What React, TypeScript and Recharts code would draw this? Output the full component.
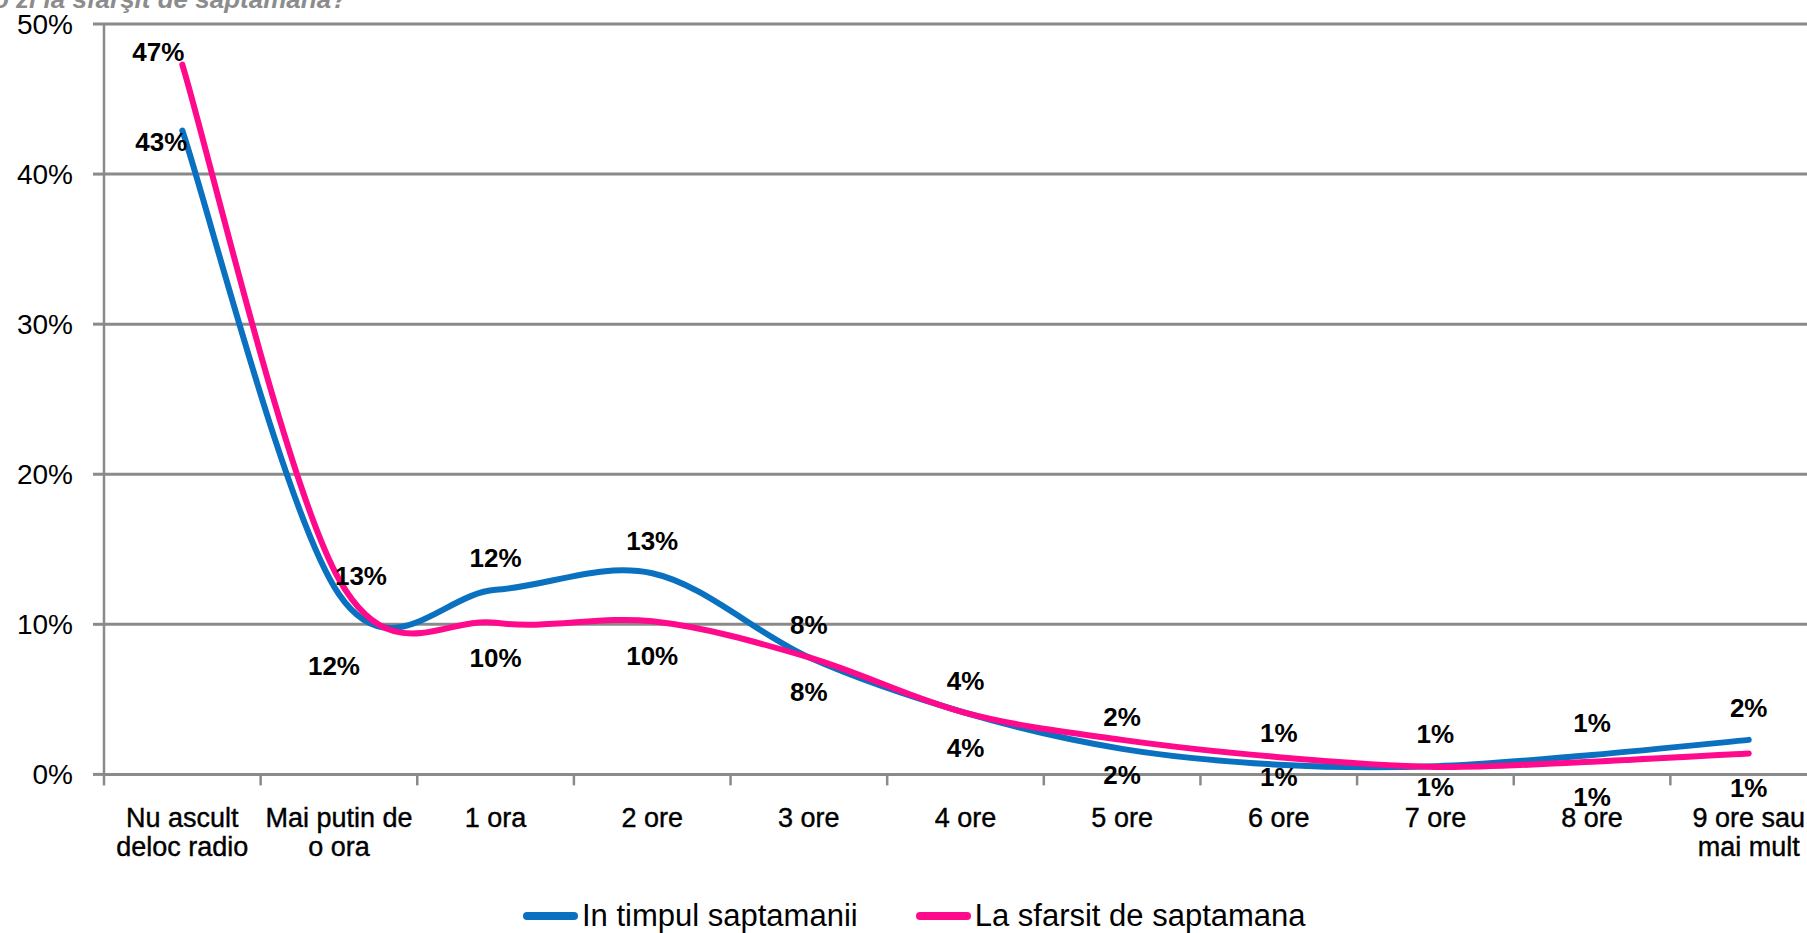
import React from 'react';
import { LineChart, Line, XAxis, YAxis, CartesianGrid } from 'recharts';

// ---------- data ----------
const categories = [
  'Nu ascult deloc radio',
  'Mai putin de o ora',
  '1 ora',
  '2 ore',
  '3 ore',
  '4 ore',
  '5 ore',
  '6 ore',
  '7 ore',
  '8 ore',
  '9 ore sau mai mult',
];
const weekValues = [42.9, 12.0, 12.3, 13.4, 7.8, 4.1, 1.7, 0.65, 0.55, 1.3, 2.3];
const weekendValues = [47.3, 13.0, 10.1, 10.2, 7.8, 4.1, 2.3, 1.15, 0.5, 0.85, 1.4];
const seriesNames = ['In timpul saptamanii', 'La sfarsit de saptamana'];
const yTicks = [0, 10, 20, 30, 40, 50];
const titleText = 'o zi la sfarşit de saptamana?';

// ---------- styles / layout ----------
const FONT = '"Liberation Sans", Arial, Helvetica, sans-serif';
const GRID = '#8a8a8a';
const BLUE = '#0a70c0';
const PINK = '#ff0a8c';
const CHART_W = 1835;
const CHART_H = 933;
const MARGIN = { top: 24, right: 8, bottom: 58.6, left: 0 };
const YAXIS_W = 104;
const BAND_PX = (CHART_W - MARGIN.left - MARGIN.right - YAXIS_W) / categories.length;
const XLABEL_SIZE = 27;
const XLABEL_FONT = `${XLABEL_SIZE}px "Liberation Sans", Arial, sans-serif`;

// label placement names (relative offsets from the point)
const labelOffsets: Record<string, [number, number]> = {
  above: [0, -32],
  below: [0, 35],
  nearBelow: [0, 20],
  leftUp: [-24, -13],
  leftDown: [-21, 11],
  right: [22, -3],
  farBelow: [-5, 72],
};
const weekPlacement = ['leftDown', 'farBelow', 'above', 'above', 'above', 'above', 'above', 'above', 'above', 'above', 'above'];
const weekendPlacement = ['leftUp', 'right', 'below', 'below', 'below', 'below', 'below', 'nearBelow', 'nearBelow', 'below', 'below'];

const data = categories.map((name, i) => ({
  x: i + 0.5,
  name,
  week: weekValues[i],
  weekend: weekendValues[i],
}));
const centerTicks = categories.map((_, i) => i + 0.5);

// Excel-like smoothed line (cardinal spline with 1/6 control points)
function excelSmooth(context: any) {
  let xs: number[] = [];
  let ys: number[] = [];
  return {
    areaStart() {},
    areaEnd() {},
    lineStart() {
      xs = [];
      ys = [];
    },
    lineEnd() {
      const n = xs.length;
      if (!n) return;
      context.moveTo(xs[0], ys[0]);
      for (let i = 0; i < n - 1; i++) {
        const i0 = Math.max(0, i - 1);
        const i3 = Math.min(n - 1, i + 2);
        const c1x = xs[i] + (xs[i + 1] - xs[i0]) / 6;
        const c1y = ys[i] + (ys[i + 1] - ys[i0]) / 6;
        const c2x = xs[i + 1] - (xs[i3] - xs[i]) / 6;
        const c2y = ys[i + 1] - (ys[i3] - ys[i]) / 6;
        context.bezierCurveTo(c1x, c1y, c2x, c2y, xs[i + 1], ys[i + 1]);
      }
    },
    point(x: number, y: number) {
      xs.push(+x);
      ys.push(+y);
    },
  };
}

let measureCtx: any = null;
function measure(text: string) {
  if (!measureCtx && typeof document !== 'undefined') {
    measureCtx = document.createElement('canvas').getContext('2d');
  }
  if (!measureCtx) return text.length * XLABEL_SIZE * 0.5;
  measureCtx.font = XLABEL_FONT;
  return measureCtx.measureText(text).width;
}
function wrapWords(text: string, maxW: number) {
  const words = text.split(' ');
  const lines: string[] = [];
  let cur = '';
  words.forEach((w) => {
    const cand = cur ? `${cur} ${w}` : w;
    if (cur && measure(cand) > maxW) {
      lines.push(cur);
      cur = w;
    } else {
      cur = cand;
    }
  });
  if (cur) lines.push(cur);
  return lines;
}

const makeLabelDot = (placement: string[], values: number[]) => (props: any) => {
  const { cx, cy, index } = props;
  if (cx == null || cy == null) return <g key={`e-${index}`} />;
  const off = labelOffsets[placement[index]] || [0, -32];
  return (
    <text
      key={`lbl-${index}`}
      x={cx + off[0]}
      y={cy + off[1]}
      textAnchor="middle"
      dominantBaseline="central"
      fontSize={26}
      fontWeight="bold"
      fontFamily={FONT}
      fill="#000"
    >
      {`${Math.round(values[index])}%`}
    </text>
  );
};

const CategoryTick = (props: any) => {
  const { x, y, payload } = props;
  const idx = Math.floor(payload.value);
  const lines = wrapWords(categories[idx], 150);
  const left = x - BAND_PX / 2;
  return (
    <g>
      <line x1={left} x2={left} y1={y} y2={y + 11} stroke={GRID} strokeWidth={2.5} />
      <text
        x={x}
        y={y + 33 + XLABEL_SIZE * 0.71}
        textAnchor="middle"
        fontSize={XLABEL_SIZE}
        fontFamily={FONT}
        fill="#000"
        stroke="#000"
        strokeWidth={0.4}
      >
        {lines.map((l, k) => (
          <tspan key={k} x={x} dy={k === 0 ? 0 : 29}>
            {l}
          </tspan>
        ))}
      </text>
    </g>
  );
};

export default function App() {
  return (
    <div
      style={{
        position: 'absolute',
        left: 0,
        top: 0,
        width: 1807,
        height: 933,
        overflow: 'hidden',
        background: '#fff',
        fontFamily: FONT,
      }}
    >
      <div
        style={{
          position: 'absolute',
          left: -7,
          top: -16,
          fontSize: 26,
          lineHeight: '30px',
          fontStyle: 'italic',
          fontWeight: 'bold',
          color: '#8c8c8c',
          whiteSpace: 'nowrap',
        }}
      >
        {titleText}
      </div>
      <div style={{ position: 'absolute', left: 0, top: 0 }}>
        <LineChart width={CHART_W} height={CHART_H} data={data} margin={MARGIN}>
          <CartesianGrid vertical={false} stroke={GRID} strokeWidth={3} />
          <XAxis
            type="number"
            dataKey="x"
            domain={[0, categories.length]}
            ticks={centerTicks}
            interval={0}
            height={100}
            axisLine={false}
            tickLine={false}
            tickSize={0}
            tickMargin={0}
            tick={CategoryTick}
          />
          <YAxis
            type="number"
            domain={[0, 50]}
            ticks={yTicks}
            interval={0}
            width={YAXIS_W}
            axisLine={{ stroke: GRID, strokeWidth: 2.5 }}
            tickLine={{ stroke: GRID, strokeWidth: 3 }}
            tickSize={11}
            tickMargin={20}
            tick={{ fontSize: 28, fill: '#000', fontFamily: FONT }}
            tickFormatter={(v: number) => `${v}%`}
          />
          <Line
            dataKey="week"
            name={seriesNames[0]}
            type={excelSmooth as any}
            stroke={BLUE}
            strokeWidth={6}
            strokeLinecap="round"
            dot={makeLabelDot(weekPlacement, weekValues)}
            activeDot={false}
            isAnimationActive={false}
          />
          <Line
            dataKey="weekend"
            name={seriesNames[1]}
            type={excelSmooth as any}
            stroke={PINK}
            strokeWidth={6}
            strokeLinecap="round"
            dot={makeLabelDot(weekendPlacement, weekendValues)}
            activeDot={false}
            isAnimationActive={false}
          />
        </LineChart>
      </div>
      <div
        style={{
          position: 'absolute',
          left: 523,
          top: 898,
          display: 'flex',
          alignItems: 'center',
          fontSize: 31,
          lineHeight: '36px',
          color: '#000',
          whiteSpace: 'nowrap',
        }}
      >
        {seriesNames.map((n, i) => (
          <div key={n} style={{ display: 'flex', alignItems: 'center', marginRight: i === 0 ? 58 : 0 }}>
            <span
              style={{
                display: 'inline-block',
                width: 55,
                height: 8,
                borderRadius: 4,
                background: i === 0 ? BLUE : PINK,
                marginRight: 4,
              }}
            />
            <span>{n}</span>
          </div>
        ))}
      </div>
    </div>
  );
}
